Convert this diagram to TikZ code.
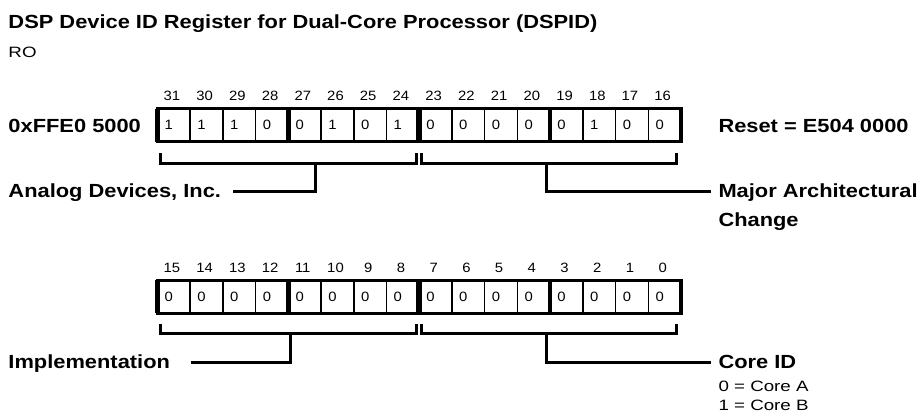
\documentclass[tikz,border=0pt]{standalone}
\usepackage{fontspec}
\setmainfont{Liberation Sans}[FakeStretch=1.15]
\newfontfamily\plainfont{Liberation Sans}[FakeStretch=1.25]
\newfontfamily\digitfont{Liberation Sans}[FakeStretch=1.1]
\usetikzlibrary{positioning}

\begin{document}
\begin{tikzpicture}[x=1pt,y=-1pt,
  lbl/.style={font=\fontsize{19}{22}\selectfont\bfseries, inner sep=0pt, text height=13.6pt, text depth=0pt},
  note/.style={font=\plainfont\fontsize{15}{18}\selectfont, inner sep=0pt, text height=10.7pt, text depth=0pt},
  bitno/.style={font=\digitfont\fontsize{13.5}{16}\selectfont, inner sep=0pt, anchor=base},
  bitval/.style={font=\digitfont\fontsize{13.5}{16}\selectfont, inner sep=0pt, anchor=base west},
  cell/.style={line width=1.5pt},
  nibble/.style={line width=4.5pt},
  bytesep/.style={line width=5.7pt},
  frame/.style={line width=3.3pt},
  brace/.style={line width=3pt}]
\useasboundingbox (0,0) rectangle (922,416);

\node[lbl, anchor=west] (title) at (8.3,22) {DSP Device ID Register for Dual-Core Processor (DSPID)};
\node[note, anchor=west] (ro) at (8.3,52) {RO};

% upper half, bits 31-16
\node[lbl, anchor=west] (addr) at (8.3,125.2) {0xFFE0 5000};
\node[lbl, anchor=west] (reset) at (718.3,125.2) {Reset = E504 0000};
\draw[frame] (157.5,108.8) rectangle (681.02,141.7);
\foreach \i in {1,2,3,5,6,7,9,10,11,13,14,15}
  \draw[cell] (157.5+\i*32.72,108.8) -- (157.5+\i*32.72,141.7);
\foreach \i in {0,4,12,16}
  \draw[nibble] (157.5+\i*32.72,108.8) -- (157.5+\i*32.72,141.7);
\draw[bytesep] (419.26,108.8) -- (419.26,141.7);
\foreach \v [count=\i from 0] in {1,1,1,0,0,1,0,1,0,0,0,0,0,1,0,0} {
  \pgfmathtruncatemacro\bit{31-\i}
  \node[bitno] (no\bit) at (157.5+\i*32.72+14.4,100.8) {\bit};
  \node[bitval] (val\bit) at (157.5+\i*32.72+7,129.8) {\v};
}
\draw[brace] (160.7,153) |- (416,163.5) -- (416,153);
\draw[brace] (421,153) |- (676.7,163.5) -- (676.7,153);

\coordinate (adi-stem) at (315,163.5);
\coordinate (adi-end) at (233,191);
\node[lbl, anchor=west] (adi) at (8.3,191) {Analog Devices, Inc.};
\draw[brace] (adi-stem) |- (adi-end);

\coordinate (mac-stem) at (546,163.5);
\coordinate (mac-end) at (711,191);
\node[lbl, right=7.3pt of mac-end] (mac) {Major Architectural};
\node[lbl, below right=14.4pt and 0pt of mac.south west] (chg) {Change};
\draw[brace] (mac-stem) |- (mac-end);

% lower half, bits 15-0
\draw[frame] (157.5,280.3) rectangle (681.02,313.2);
\foreach \i in {1,2,3,5,6,7,9,10,11,13,14,15}
  \draw[cell] (157.5+\i*32.72,280.3) -- (157.5+\i*32.72,313.2);
\foreach \i in {0,4,12,16}
  \draw[nibble] (157.5+\i*32.72,280.3) -- (157.5+\i*32.72,313.2);
\draw[bytesep] (419.26,280.3) -- (419.26,313.2);
\foreach \v [count=\i from 0] in {0,0,0,0,0,0,0,0,0,0,0,0,0,0,0,0} {
  \pgfmathtruncatemacro\bit{15-\i}
  \node[bitno] (no\bit) at (157.5+\i*32.72+14.4,272.3) {\bit};
  \node[bitval] (val\bit) at (157.5+\i*32.72+7,301.3) {\v};
}
\draw[brace] (160.7,323.5) |- (416,333.5) -- (416,323.5);
\draw[brace] (421,323.5) |- (676.7,333.5) -- (676.7,323.5);

\coordinate (impl-stem) at (290,333.5);
\coordinate (impl-end) at (190.7,362);
\node[lbl, anchor=west] (impl) at (8.3,362) {Implementation};
\draw[brace] (impl-stem) |- (impl-end);

\coordinate (core-stem) at (546,333.5);
\coordinate (core-end) at (711,362);
\node[lbl, right=7.3pt of core-end] (core) {Core ID};
\node[note, below right=12pt and 0pt of core.south west] (corea) {0 = Core A};
\node[note, below right=7.3pt and 0pt of corea.south west] (coreb) {1 = Core B};
\draw[brace] (core-stem) |- (core-end);
\end{tikzpicture}
\end{document}
